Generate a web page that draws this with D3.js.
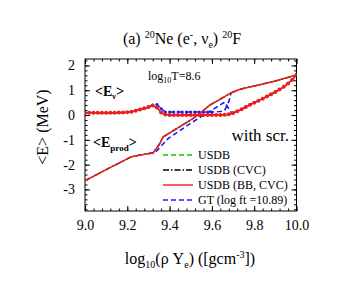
<!DOCTYPE html>
<html>
<head>
<meta charset="utf-8">
<script src="https://cdn.jsdelivr.net/npm/d3@7"></script>
<style>
  body { margin: 0; background: #fff; }
  svg { font-family: "Liberation Serif", "Times New Roman", serif; }
  .axis path { stroke: none; }
  .axis line { stroke: #000; stroke-width: 1; }
  .axis text { font-size: 14px; fill: #000; font-family: "Liberation Serif", serif; }
</style>
</head>
<body>
<svg width="338" height="295"></svg>
<script>
// log10(rho Ye) grid for the dotted <E_nu> curve
const rhoGrid = [9.00, 9.02, 9.04, 9.06, 9.08, 9.10, 9.12, 9.14, 9.16, 9.18,
  9.20, 9.22, 9.24, 9.26, 9.28, 9.30, 9.32, 9.34, 9.36, 9.38,
  9.40, 9.42, 9.44, 9.46, 9.48, 9.50, 9.52, 9.54, 9.56, 9.58,
  9.60, 9.62, 9.64, 9.66, 9.68, 9.70, 9.72, 9.74, 9.76, 9.78,
  9.80, 9.82, 9.84, 9.86, 9.88, 9.90, 9.92, 9.94, 9.96, 9.98, 10.00];
// USDB (BB, CVC) <E_nu>
const enuBB = [0.09, 0.09, 0.09, 0.09, 0.09, 0.09, 0.09, 0.09, 0.10, 0.10,
  0.11, 0.13, 0.17, 0.22, 0.27, 0.32, 0.38, 0.30, 0.10, 0.02,
  0.00, 0.00, 0.00, 0.00, 0.00, 0.00, 0.00, 0.00, 0.00, 0.00,
  0.00, 0.00, 0.00, 0.01, 0.03, 0.08, 0.15, 0.23, 0.32, 0.41,
  0.50, 0.58, 0.66, 0.75, 0.84, 0.93, 1.03, 1.14, 1.27, 1.42, 1.62];
// USDB (BB, CVC) <E_prod>
const prodX = [9.00, 9.10, 9.22, 9.27, 9.323, 9.35, 9.37, 9.42, 9.50, 9.544, 9.59, 9.64, 9.686, 9.733, 9.80, 9.90, 10.00];
const prodBB = [-2.65, -2.20, -1.68, -1.60, -1.52, -1.20, -0.88, -0.62, -0.20, 0.07, 0.40, 0.64, 0.87, 1.04, 1.17, 1.37, 1.62];
// GT (log ft = 10.89)
const gtEnuX = [9.30, 9.32, 9.34, 9.36, 9.38, 9.40, 9.42, 9.44, 9.46, 9.48, 9.50, 9.52, 9.54, 9.56, 9.58, 9.60, 9.62, 9.64, 9.66, 9.68, 9.69];
const gtEnu = [0.32, 0.40, 0.43, 0.26, 0.12, 0.12, 0.12, 0.12, 0.12, 0.12, 0.12, 0.12, 0.12, 0.12, 0.12, 0.12, 0.13, 0.14, 0.18, 0.55, 0.87];
const gtProdX = [9.30, 9.331, 9.36, 9.394, 9.45, 9.50, 9.55, 9.60, 9.66, 9.69, 9.70];
const gtProd = [-1.56, -1.52, -1.25, -0.94, -0.62, -0.33, -0.06, 0.20, 0.52, 0.12, 0.03];

const xTicks = [9.0, 9.2, 9.4, 9.6, 9.8, 10.0];
const yTicks = [-3, -2, -1, 0, 1, 2];
const legendLabels = ["USDB", "USDB (CVC)", "USDB (BB, CVC)", "GT (log ft =10.89)"];

const svg = d3.select("svg");
const mLeft = 85, mRight = 296.5, mTop = 59, mBottom = 211;
const serif = "Liberation Serif";

const x = d3.scaleLinear().domain([9.0, 10.0]).range([mLeft, mRight]);
const y = d3.scaleLinear().domain([-3.87, 2.26]).range([mBottom, mTop]);

// clip
svg.append("clipPath").attr("id", "clip")
  .append("rect").attr("x", mLeft).attr("y", mTop)
  .attr("width", mRight - mLeft).attr("height", mBottom - mTop);

// axes: inward ticks on all four sides
const xMinor = d3.range(9.0, 10.0001, 0.04).map(v => +v.toFixed(2));
const yMinor = d3.range(-3.8, 2.21, 0.2).map(v => +v.toFixed(1));

function axisG(tx, ty) {
  return svg.append("g").attr("class", "axis").attr("transform", `translate(${tx},${ty})`);
}
axisG(0, mBottom).call(d3.axisBottom(x).tickValues(xTicks).tickSize(-5).tickPadding(9).tickFormat(d3.format(".1f")));
axisG(0, mBottom).call(d3.axisBottom(x).tickValues(xMinor).tickSize(-2.5).tickFormat(""));
axisG(0, mTop).call(d3.axisTop(x).tickValues(xTicks).tickSize(-5).tickFormat(""));
axisG(0, mTop).call(d3.axisTop(x).tickValues(xMinor).tickSize(-2.5).tickFormat(""));
axisG(mLeft, 0).call(d3.axisLeft(y).tickValues(yTicks).tickSize(-5).tickPadding(10).tickFormat(d3.format("d")));
axisG(mLeft, 0).call(d3.axisLeft(y).tickValues(yMinor).tickSize(-2.5).tickFormat(""));
axisG(mRight, 0).call(d3.axisRight(y).tickValues(yTicks).tickSize(-5).tickFormat(""));
axisG(mRight, 0).call(d3.axisRight(y).tickValues(yMinor).tickSize(-2.5).tickFormat(""));

// reference uses a plain hyphen for negatives, serif labels
svg.selectAll(".axis").attr("font-family", serif);
svg.selectAll(".axis text").text(function() { return this.textContent.replace("\u2212", "-"); });

svg.append("rect").attr("x", mLeft).attr("y", mTop)
  .attr("width", mRight - mLeft).attr("height", mBottom - mTop)
  .attr("fill", "none").attr("stroke", "#000").attr("stroke-width", 1);

const plot = svg.append("g").attr("clip-path", "url(#clip)");
const line = d3.line().x(d => x(d[0])).y(d => y(d[1]));

const enuPts = d3.zip(rhoGrid, enuBB);
const prodPts = d3.zip(prodX, prodBB);

// USDB (green) and USDB (CVC) (black) lie under the BB curves
[["#00cc00", "5,3"], ["#000", "6,2,1.5,2"]].forEach(([c, dash]) => {
  plot.append("path").datum(enuPts).attr("d", line)
    .attr("fill", "none").attr("stroke", c).attr("stroke-width", 1.3).attr("stroke-dasharray", dash);
  plot.append("path").datum(prodPts.concat([[9.69, 0.9]]).sort((a, b) => a[0] - b[0])).attr("d", line)
    .attr("fill", "none").attr("stroke", c).attr("stroke-width", 1.3).attr("stroke-dasharray", dash);
});

// GT blue dashed
const gtEnuPts = d3.zip(gtEnuX, gtEnu);
plot.append("path").datum(gtEnuPts).attr("d", line)
  .attr("fill", "none").attr("stroke", "#1a1aff").attr("stroke-width", 1.6).attr("stroke-dasharray", "5,3");
plot.selectAll(".gtdot").data(gtEnuPts.filter(d => d[0] <= 9.6)).join("circle")
  .attr("cx", d => x(d[0])).attr("cy", d => y(d[1])).attr("r", 1.5).attr("fill", "#1a1aff");
plot.append("path").datum(d3.zip(gtProdX, gtProd)).attr("d", line)
  .attr("fill", "none").attr("stroke", "#1a1aff").attr("stroke-width", 1.6).attr("stroke-dasharray", "5,3");

// USDB (BB, CVC) red
plot.append("path").datum(prodPts).attr("d", line)
  .attr("fill", "none").attr("stroke", "#ee1c1c").attr("stroke-width", 1.5);
plot.append("path").datum(enuPts).attr("d", line)
  .attr("fill", "none").attr("stroke", "#ee1c1c").attr("stroke-width", 1.5);
plot.selectAll(".rdot").data(enuPts).join("circle")
  .attr("cx", d => x(d[0])).attr("cy", d => y(d[1])).attr("r", 2).attr("fill", "#ee1c1c");

// legend
const legColors = ["#00cc00", "#000", "#ee1c1c", "#1a1aff"];
const legDash = ["5,3", "6,2,1.5,2", null, "5,3"];
const leg = svg.append("g");
legendLabels.forEach((t, i) => {
  const ly = 155 + i * 15;
  leg.append("line").attr("x1", 163).attr("x2", 193).attr("y1", ly).attr("y2", ly)
    .attr("stroke", legColors[i]).attr("stroke-width", 1.4)
    .attr("stroke-dasharray", legDash[i]);
  leg.append("text").attr("x", 198).attr("y", ly + 4).attr("font-size", 12).text(t);
});

// annotations
const t1 = svg.append("text").attr("x", 148).attr("y", 80).attr("font-size", 12);
t1.append("tspan").text("log");
t1.append("tspan").attr("font-size", 8).attr("dy", 3).text("10");
t1.append("tspan").attr("dy", -3).text("T=8.6");

const ev = svg.append("text").attr("x", 95).attr("y", 96).attr("font-size", 14).attr("font-weight", "bold");
ev.append("tspan").text("<E");
ev.append("tspan").attr("font-size", 8).attr("dy", 3).text("\u03bd");
ev.append("tspan").attr("dy", -3).text(">");

const ep = svg.append("text").attr("x", 93).attr("y", 147).attr("font-size", 14).attr("font-weight", "bold");
ep.append("tspan").text("<E");
ep.append("tspan").attr("font-size", 9).attr("dy", 4).text("prod");
ep.append("tspan").attr("dy", -4).text(">");

svg.append("text").attr("x", 289).attr("y", 141).attr("text-anchor", "end")
  .attr("font-size", 17).text("with scr.");

// title
const title = svg.append("text").attr("x", 182).attr("y", 44).attr("text-anchor", "middle").attr("font-size", 16);
title.append("tspan").text("(a) ");
title.append("tspan").attr("font-size", 10).attr("dy", -6).text("20");
title.append("tspan").attr("dy", 6).text("Ne (e");
title.append("tspan").attr("font-size", 10).attr("dy", -6).text("-");
title.append("tspan").attr("dy", 6).text(", \u03bd");
title.append("tspan").attr("font-size", 10).attr("dy", 4).text("e");
title.append("tspan").attr("dy", -4).text(") ");
title.append("tspan").attr("font-size", 10).attr("dy", -6).text("20");
title.append("tspan").attr("dy", 6).text("F");

// x label
const xl = svg.append("text").attr("x", 190).attr("y", 264).attr("text-anchor", "middle").attr("font-size", 16);
xl.append("tspan").text("log");
xl.append("tspan").attr("font-size", 10).attr("dy", 4).text("10");
xl.append("tspan").attr("dy", -4).text("(\u03c1 Y");
xl.append("tspan").attr("font-size", 10).attr("dy", 4).text("e");
xl.append("tspan").attr("dy", -4).text(") ([gcm");
xl.append("tspan").attr("font-size", 10).attr("dy", -6).text("-3");
xl.append("tspan").attr("dy", 6).text("])");

// y label
svg.append("text").attr("transform", `translate(48,127) rotate(-90)`)
  .attr("text-anchor", "middle").attr("font-size", 16).text("<E> (MeV)");
</script>
</body>
</html>
